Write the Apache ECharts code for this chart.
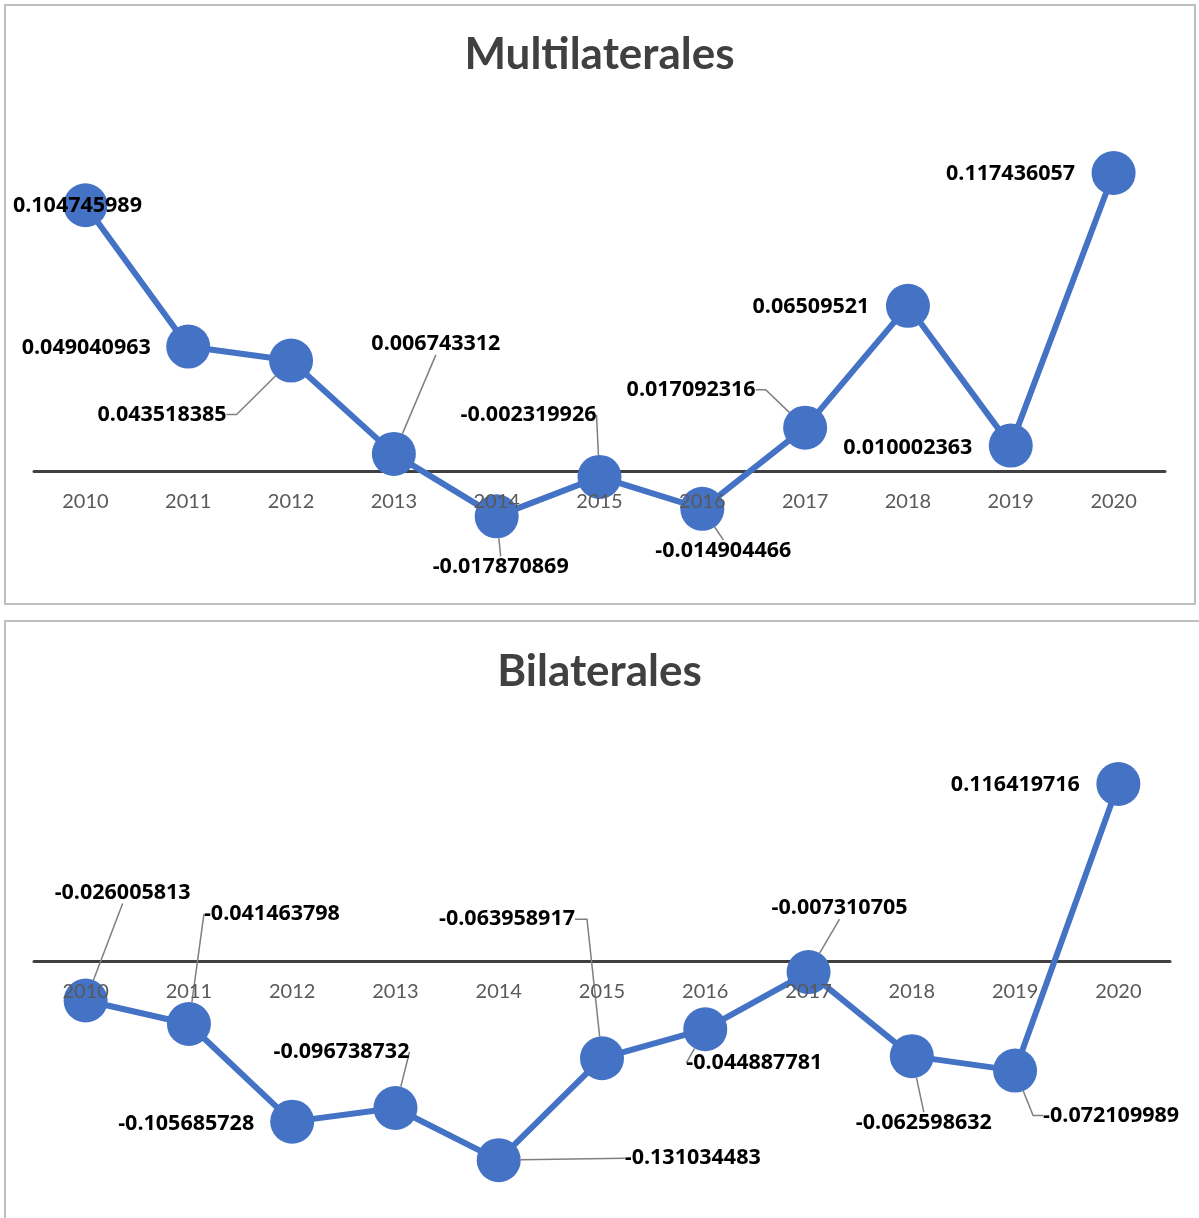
<!DOCTYPE html>
<html>
<head>
<meta charset="utf-8">
<title>Multilaterales / Bilaterales</title>
<script src="https://cdn.jsdelivr.net/npm/echarts@6/dist/echarts.min.js"></script>
<style>
  html, body { margin: 0; padding: 0; background: #fff; }
  #main { width: 1199px; height: 1218px; }
</style>
</head>
<body>
<div id="main"></div>
<script>
const years = ['2010', '2011', '2012', '2013', '2014', '2015', '2016', '2017', '2018', '2019', '2020'];
const multiValues = [0.104745989, 0.049040963, 0.043518385, 0.006743312, -0.017870869, -0.002319926,
  -0.014904466, 0.017092316, 0.06509521, 0.010002363, 0.117436057];
const biValues = [-0.026005813, -0.041463798, -0.105685728, -0.096738732, -0.131034483, -0.063958917,
  -0.044887781, -0.007310705, -0.062598632, -0.072109989, 0.116419716];

// where each data label sits relative to its marker: [dx, dy, leader line, tail length]
const multiLabelPos = [
  [-8, 1, false, 0], [-102, 1, false, 0], [-129, 54, true, 10], [42, -110, true, 0],
  [4, 51, true, 0], [-71, -62, true, 0], [21, 42, true, 0], [-114, -38, true, 10],
  [-97, 1, false, 0], [-103, 2, false, 0], [-103, 1, false, 0]
];
const biLabelPos = [
  [37, -108, true, 0], [83, -110, true, 0], [-106, 2, false, 0], [-54, -56, true, 0],
  [194, -2, true, 0], [-95, -139, true, 12], [49, 34, true, 0], [31, -64, true, 0],
  [12, 67, true, 0], [96, 45, true, 10], [-103, 1, false, 0]
];

const FONT = 'Lato';
const LABEL_FONT = 'Open Sans';
const BLUE = '#4472C4';

// y ranges and pixel sizes of the two plots
const ranges = [[-0.04, 0.14], [-0.16, 0.14]];
const plotHeights = [456.75, 456];

function buildData(values, pos) {
  return values.map((v, i) => ({
    value: v,
    labelLine: {
      show: pos[i][2],
      length2: pos[i][3],
      showAbove: true,
      lineStyle: { color: '#7f7f7f', width: 1.5 }
    }
  }));
}

// two x axes per plot: the dark zero line sits under the series,
// the year labels sit above the markers
function xAxesFor(gridIndex) {
  const r = ranges[gridIndex];
  const lift = plotHeights[gridIndex] * (0 - r[0]) / (r[1] - r[0]);
  const base = {
    type: 'category',
    gridIndex: gridIndex,
    data: years,
    boundaryGap: true,
    position: 'bottom',
    offset: -lift,
    axisTick: { show: false },
    splitLine: { show: false }
  };
  return [
    Object.assign({}, base, {
      z: 1,
      axisLine: { show: true, onZero: false, lineStyle: { color: '#404040', width: 3 } },
      axisLabel: { show: false }
    }),
    Object.assign({}, base, {
      z: 10,
      axisLine: { show: false, onZero: false },
      axisLabel: { color: '#595959', fontSize: 20, fontFamily: FONT, margin: 21 }
    })
  ];
}

// leader line like Excel: from the nearest label edge (plus a short tail) to the marker centre
function leaderLayout(pos) {
  return function (p) {
    const o = pos[p.dataIndex];
    const res = { dx: o[0], dy: o[1] };
    if (!o[2]) return res;
    const cx = p.rect.x + p.rect.width / 2;
    const cy = p.rect.y + p.rect.height / 2;
    const lr = p.labelRect;
    const x0 = lr.x + o[0], y0 = lr.y + o[1];
    const mx = x0 + lr.width / 2, my = y0 + lr.height / 2;
    const t = o[3];
    const cands = [
      [[x0 - 2, my], [x0 - 2 - t, my]],
      [[x0 + lr.width + 2, my], [x0 + lr.width + 2 + t, my]],
      [[mx, y0], [mx, y0 - t]],
      [[mx, y0 + lr.height], [mx, y0 + lr.height + t]]
    ];
    let best = null, bestD = Infinity;
    cands.forEach(c => {
      const d = Math.hypot(c[1][0] - cx, c[1][1] - cy);
      if (d < bestD) { bestD = d; best = c; }
    });
    res.labelLinePoints = [[cx, cy], best[1], best[0]];
    return res;
  };
}

function seriesFor(idx, values, pos) {
  return {
    type: 'line',
    xAxisIndex: idx * 2,
    yAxisIndex: idx,
    data: buildData(values, pos),
    symbol: 'circle',
    symbolSize: 44,
    lineStyle: { color: BLUE, width: 6 },
    itemStyle: { color: BLUE },
    label: {
      show: true,
      position: 'inside',
      color: '#000',
      fontWeight: 'bold',
      fontSize: 21.5,
      fontFamily: LABEL_FONT,
      formatter: p => String(p.value)
    },
    labelLayout: leaderLayout(pos),
    z: 3
  };
}

const chart = echarts.init(document.getElementById('main'));
chart.setOption({
  animation: false,
  backgroundColor: '#fff',
  title: [
    { text: 'Multilaterales', left: 'center', top: 33, padding: 0,
      textStyle: { fontSize: 44, fontWeight: 'bold', color: '#404040', fontFamily: FONT } },
    { text: 'Bilaterales', left: 'center', top: 650, padding: 0,
      textStyle: { fontSize: 44, fontWeight: 'bold', color: '#404040', fontFamily: FONT } }
  ],
  graphic: [
    { type: 'rect', shape: { x: 5, y: 5, width: 1190, height: 599 }, silent: true,
      style: { fill: 'none', stroke: '#bfbfbf', lineWidth: 2 }, z: -10 },
    { type: 'rect', shape: { x: 5, y: 621, width: 1210, height: 620 }, silent: true,
      style: { fill: 'none', stroke: '#bfbfbf', lineWidth: 2 }, z: -10 }
  ],
  grid: [
    { left: 34, width: 1131, top: 115.75, height: plotHeights[0], outerBoundsMode: 'none', containLabel: false },
    { left: 34, width: 1136, top: 748.2, height: plotHeights[1], outerBoundsMode: 'none', containLabel: false }
  ],
  xAxis: xAxesFor(0).concat(xAxesFor(1)),
  yAxis: [
    { type: 'value', gridIndex: 0, min: ranges[0][0], max: ranges[0][1], show: false, splitLine: { show: false } },
    { type: 'value', gridIndex: 1, min: ranges[1][0], max: ranges[1][1], show: false, splitLine: { show: false } }
  ],
  series: [
    seriesFor(0, multiValues, multiLabelPos),
    seriesFor(1, biValues, biLabelPos)
  ]
});
window.onresize = function () {
  chart.resize();
};
</script>
</body>
</html>
